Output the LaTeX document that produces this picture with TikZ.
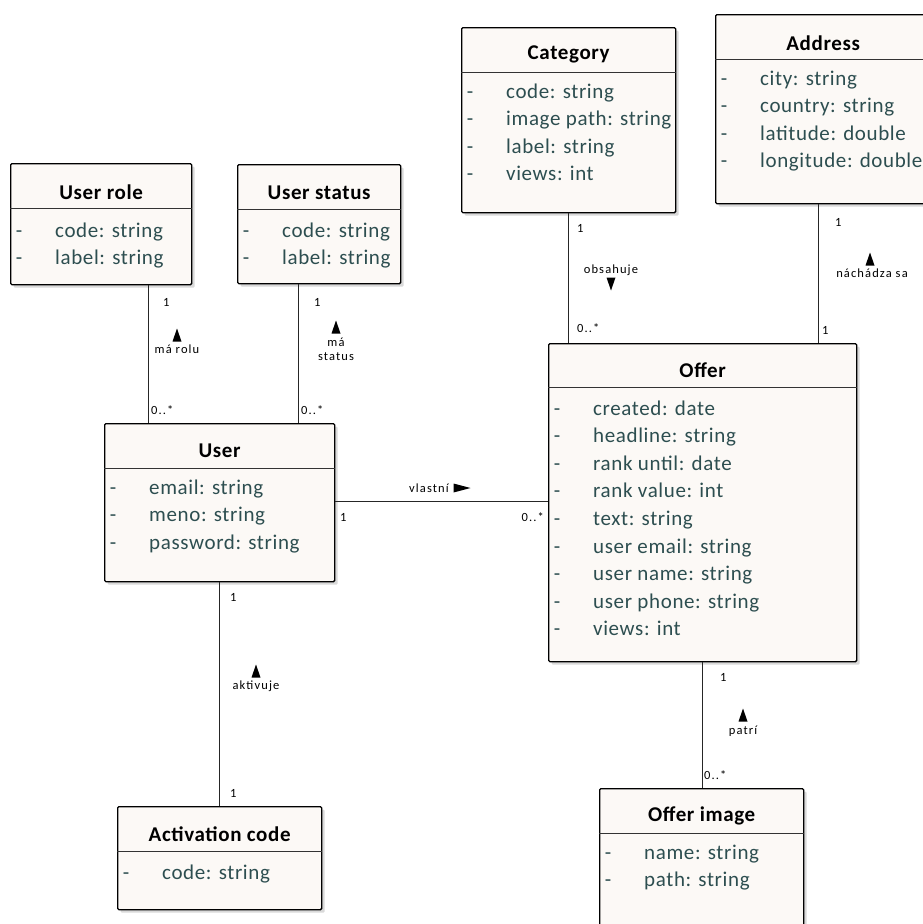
\documentclass[tikz,border=0pt]{standalone}
\usepackage{fontspec}
\setmainfont{Carlito}
\newfontfamily\boxfont{Carlito}[LetterSpace=3]
\newfontfamily\lblfont{Carlito}[LetterSpace=9]
\usetikzlibrary{shadows,calc}
\definecolor{boxfill}{RGB}{252,249,246}
\definecolor{attrcol}{RGB}{45,78,80}

\tikzset{
  classbox/.style={draw=black, line width=1.3pt, fill=boxfill,
    rounded corners=1.2pt, anchor=north west, inner sep=0pt,
    drop shadow={shadow xshift=3pt, shadow yshift=-3pt, opacity=0.15, fill=black}},
  sepline/.style={draw=black!80, line width=1pt},
  titletext/.style={font=\boxfont\bfseries\fontsize{21}{24}\selectfont, inner sep=0pt, anchor=center},
  attrtext/.style={font=\boxfont\fontsize{21}{24}\selectfont, text=attrcol, inner sep=0pt, anchor=base west},
  vismark/.style={font=\boxfont\fontsize{21}{24}\selectfont, text=attrcol, inner sep=0pt, anchor=base},
  assoc/.style={draw=black!85, line width=1pt},
  small/.style={font=\lblfont\fontsize{12.5}{14}\selectfont, inner sep=0pt},
}

% a class box: name, left, top, right, bottom
\newcommand\umlbox[5]{%
  \node[classbox, minimum width={#4-#2}, minimum height={#5-#3}] (#1) at (#2,#3) {};}
% header: name, separator y, title y, title
\newcommand\umlhead[4]{%
  \draw[sepline] (#1.west |- 0,#2) -- (#1.east |- 0,#2);
  \node[titletext] (#1-title) at (#1.north |- 0,{#3+2}) {#4};}
% attributes: name, left, first y, list
\newcommand\umlattrs[4]{%
  \foreach \t [count=\i from 0] in {#4} {
    \node[vismark] (#1-v\i) at ({#2+9},{#3+\i*27.6+7}) {-};
    \node[attrtext] (#1-a\i) at ({#2+45},{#3+\i*27.6+7}) {\t};
  }}
% navigability marks
\newcommand\uptri[2]{\fill ({#1-4.5},{#2+6.5}) -- ({#1+4.5},{#2+6.5}) -- (#1,{#2-6.5}) -- cycle;}
\newcommand\downtri[2]{\fill ({#1-4.5},{#2-6.5}) -- ({#1+4.5},{#2-6.5}) -- (#1,{#2+6.5}) -- cycle;}
\newcommand\righttri[2]{\fill ({#1-8.5},{#2-4.5}) -- ({#1-8.5},{#2+4.5}) -- ({#1+8.5},#2) -- cycle;}

\begin{document}
\begin{tikzpicture}[x=1pt, y=-1pt]
\useasboundingbox (0,0) rectangle (923,924);
\clip (0,0) rectangle (923,924);

% classes
\umlbox{cat}{461}{27}{675}{212}
\umlhead{cat}{72}{52}{Category}
\umlattrs{cat}{461}{91}{code: string, image path: string, label: string, views: int}

\umlbox{addr}{715}{14}{930}{203}
\umlhead{addr}{59}{41}{Address}
\umlattrs{addr}{715}{78}{city: string, country: string, latitude: double, longitude: double}

\umlbox{role}{10}{163}{191}{284}
\umlhead{role}{208}{190}{User role}
\umlattrs{role}{10}{230}{code: string, label: string}

\umlbox{status}{237}{164}{400}{283}
\umlhead{status}{209}{191}{User status}
\umlattrs{status}{237}{230}{code: string, label: string}

\umlbox{user}{104}{423}{334}{581}
\umlhead{user}{468}{449}{User}
\umlattrs{user}{104}{487}{email: string, meno: string, password: string}

\umlbox{offer}{548}{343}{856}{661}
\umlhead{offer}{387}{368}{Offer}
\umlattrs{offer}{548}{408}{created: date, headline: string, rank until: date, rank value: int, text: string, user email: string, user name: string, user phone: string, views: int}

\umlbox{act}{117}{806}{321}{909}
\umlhead{act}{851}{832}{Activation code}
\umlattrs{act}{117}{872}{code: string}

\umlbox{img}{599}{788}{803}{940}
\umlhead{img}{833}{814}{Offer image}
\umlattrs{img}{599}{852}{name: string, path: string}

% associations
\draw[assoc] (cat.south -| 568,0) -- (offer.north -| 568,0);
\node[small, anchor=west] (cat-m1) at (577,228) {1};
\node[small] (cat-lbl) at (611,270) {obsahuje};
\downtri{611}{284}
\node[small, anchor=west] (cat-m2) at (577,328) {0..*};

\draw[assoc] (addr.south -| 818,0) -- (offer.north -| 818,0);
\node[small, anchor=west] (addr-m1) at (835,222) {1};
\uptri{870}{259}
\node[small] (addr-lbl) at (872,273) {náchádza sa};
\node[small, anchor=west] (addr-m2) at (822,330) {1};

\draw[assoc] (role.south -| 148,0) -- (user.north -| 148,0);
\node[small, anchor=west] (role-m1) at (163,302) {1};
\uptri{177}{335}
\node[small] (role-lbl) at (177,349) {má rolu};
\node[small, anchor=west] (role-m2) at (151,410) {0..*};

\draw[assoc] (status.south -| 298,0) -- (user.north -| 298,0);
\node[small, anchor=west] (status-m1) at (314,302) {1};
\uptri{336}{327}
\node[small] (status-lbl1) at (336,342) {má};
\node[small] (status-lbl2) at (336,357) {status};
\node[small, anchor=west] (status-m2) at (301,410) {0..*};

\draw[assoc] (user.east |- 0,501) -- (offer.west |- 0,501);
\node[small, anchor=east] (own-lbl) at (449,488) {vlastní};
\righttri{462}{488}
\node[small, anchor=west] (own-m1) at (340,517) {1};
\node[small, anchor=east] (own-m2) at (544,517) {0..*};

\draw[assoc] (user.south -| 219,0) -- (act.north -| 219,0);
\node[small, anchor=west] (act-m1) at (230,597) {1};
\uptri{256}{671}
\node[small] (act-lbl) at (256,686) {aktivuje};
\node[small, anchor=west] (act-m2) at (230,793) {1};

\draw[assoc] (offer.south -| 702,0) -- (img.north -| 702,0);
\node[small, anchor=west] (img-m1) at (720,677) {1};
\uptri{743}{715}
\node[small] (img-lbl) at (743,731) {patrí};
\node[small, anchor=west] (img-m2) at (704,775) {0..*};
\end{tikzpicture}
\end{document}
